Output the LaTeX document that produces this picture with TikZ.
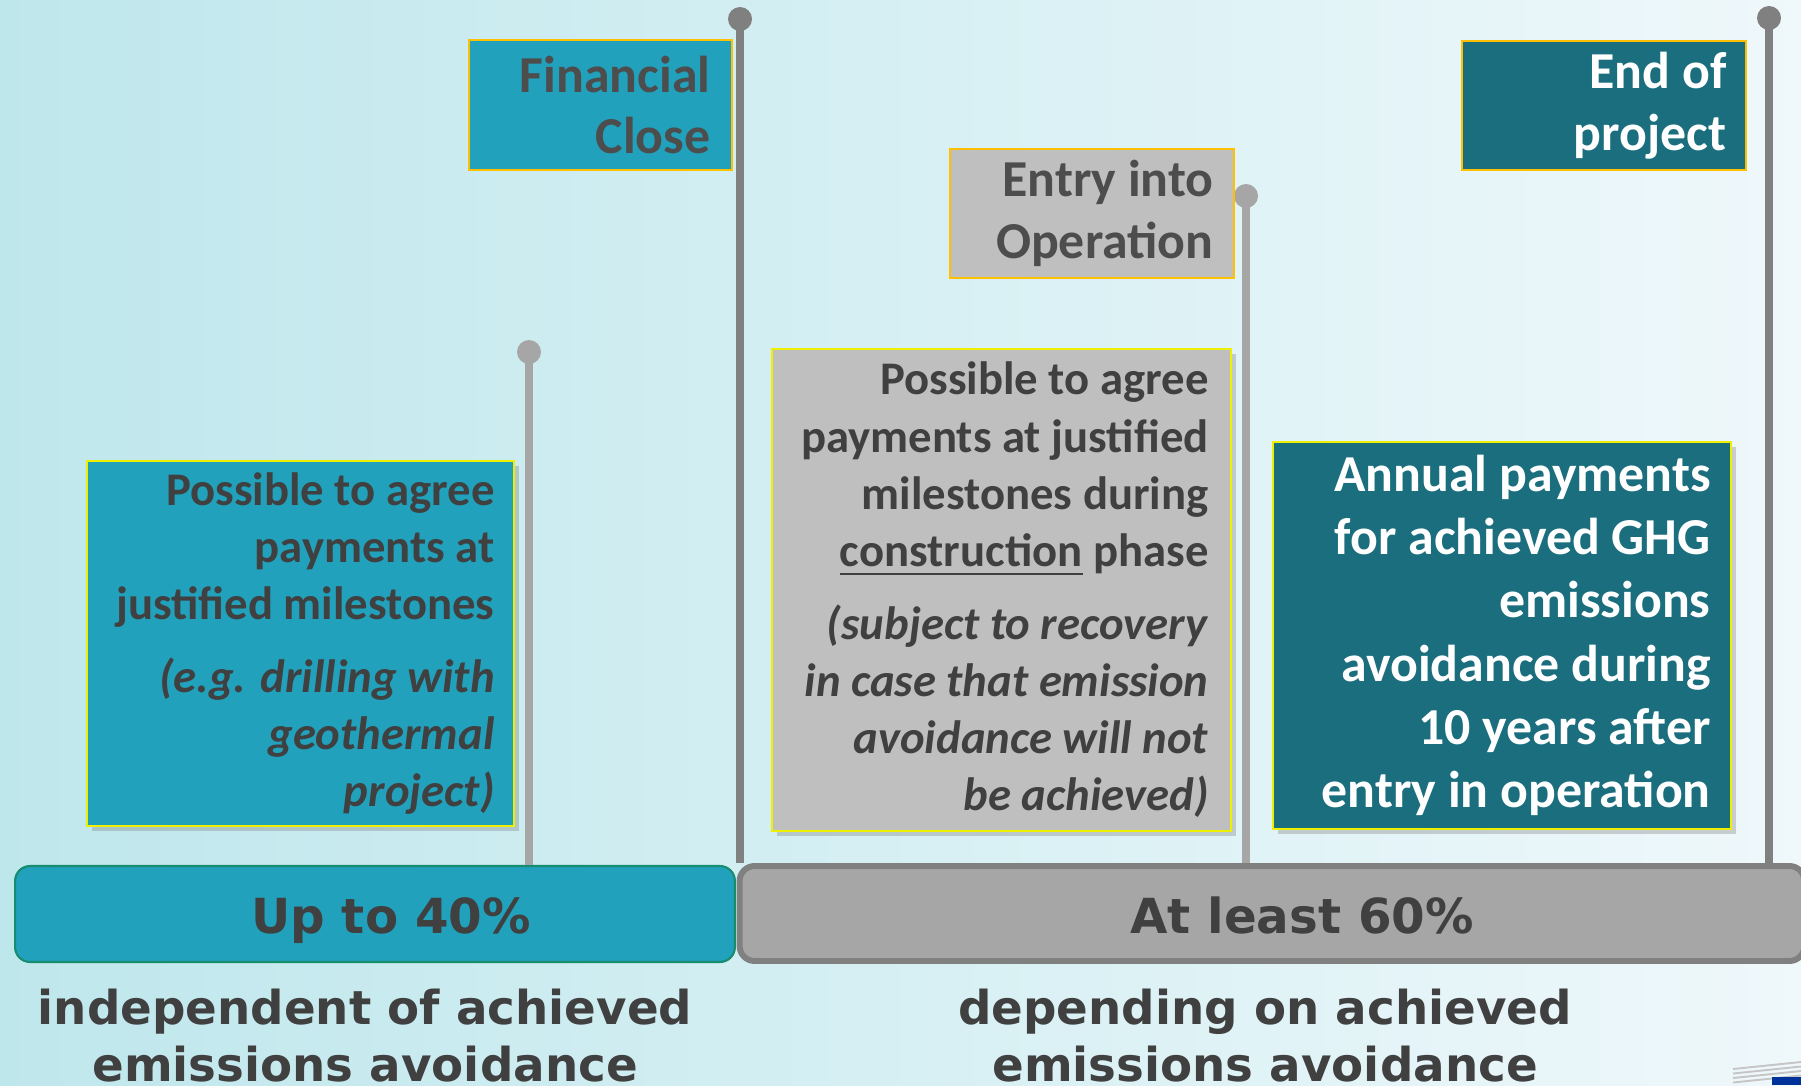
\documentclass[tikz,border=0pt]{standalone}
\usepackage{fontspec}
\setmainfont{Carlito}
\newfontfamily\verdfont{DejaVu Sans}
\usetikzlibrary{shadows}

\definecolor{seablue}{RGB}{33,161,187}
\definecolor{deepsea}{RGB}{26,110,125}
\definecolor{paleslate}{RGB}{191,191,191}
\definecolor{inkgray}{RGB}{64,64,64}
\definecolor{flagink}{RGB}{77,77,77}
\definecolor{polegray}{RGB}{128,128,128}
\definecolor{poleslight}{RGB}{166,166,166}
\definecolor{flagedge}{RGB}{255,192,0}
\definecolor{noteedge}{RGB}{238,240,0}
\definecolor{bargreen}{RGB}{24,140,110}
\definecolor{bgleft}{RGB}{190,231,236}
\definecolor{bgright}{RGB}{239,248,251}
\definecolor{eublue}{RGB}{0,51,153}

% underline with a thicker rule
\newcommand{\lineunder}[1]{\setbox0\hbox{#1}\rlap{\rule[-4.6pt]{\wd0}{1.3pt}}\box0\relax}

\begin{document}
\begin{tikzpicture}[x=0.02cm, y=-0.02cm,
    flagbox/.style={draw=flagedge, line width=0.9pt, minimum width=5.68cm, minimum height=2.58cm, inner sep=0pt},
    flagtext/.style={align=right, anchor=east, inner sep=0pt, text=flagink, font=\bfseries\fontsize{29.5pt}{35pt}\selectfont},
    notebox/.style={draw=noteedge, line width=1.1pt, inner sep=0pt, drop shadow={opacity=0.35, shadow xshift=3pt, shadow yshift=-3pt}},
    notetext/.style={align=right, anchor=east, inner sep=0pt, text=inkgray, font=\bfseries\fontsize{26.6pt}{32.6pt}\selectfont},
    pole/.style={line width=4.5pt},
    knob/.style={circle, inner sep=0pt, minimum size=0.48cm},
    sharebar/.style={inner sep=0pt, rounded corners=0.3cm, minimum height=1.92cm},
    bartext/.style={anchor=base, inner sep=0pt, text=inkgray, font=\verdfont\bfseries\fontsize{27.5pt}{33pt}\selectfont},
    foottext/.style={anchor=north, align=center, inner sep=0pt, text=inkgray, font=\verdfont\bfseries\fontsize{26.6pt}{32.3pt}\selectfont}]

  \useasboundingbox (0,0) rectangle (1801,1085);
  \clip (0,0) rectangle (1801,1085);
  \shade[left color=bgleft, right color=bgright] (0,0) rectangle (1801,1085);

  % bottom bars
  \node[sharebar, draw=bargreen, fill=seablue, line width=1.2pt, minimum width=14.4cm] (shareA) at (375,914) {};
  \node[sharebar, draw=polegray, fill=poleslight, line width=3.4pt, minimum width=21.3cm, minimum height=1.9cm] (shareB) at (1272,913.5) {};
  \node[bartext] (shareAtext) at (391,933) {Up to 40\%};
  \node[bartext] (shareBtext) at (1302,933) {At least 60\%};

  % milestone poles
  \node[knob, fill=poleslight] (knobA) at (529,352) {};
  \node[knob, fill=polegray] (knobB) at (740,19) {};
  \node[knob, fill=poleslight] (knobC) at (1246,196) {};
  \node[knob, fill=polegray] (knobD) at (1769,18) {};
  \draw[pole, poleslight] (knobA.center) -- (knobA |- shareA.north);
  \draw[pole, polegray] (knobB.center) -- (knobB |- shareB.north);
  \draw[pole, poleslight] (knobC.center) -- (knobC |- shareB.north);
  \draw[pole, polegray] (knobD.center) -- (knobD |- shareB.north);

  % flags
  \node[flagbox, fill=seablue, minimum width=5.26cm, minimum height=2.6cm] (fin) at (600.5,105) {};
  \node[flagtext] (fintext) at ([xshift=-0.44cm]fin.east) {Financial\\Close};
  \node[flagbox, fill=paleslate] (entry) at (1092,213.5) {};
  \node[flagtext] (entrytext) at ([xshift=-0.42cm]entry.east) {Entry into\\Operation};
  \node[flagbox, fill=deepsea] (endp) at (1604,105.5) {};
  \node[flagtext, text=white] (endptext) at ([xshift=-0.40cm]endp.east) {End of\\project};

  % payment notes
  \node[notebox, fill=seablue, minimum width=8.54cm, minimum height=7.3cm] (agreeA) at (300.5,643.5) {};
  \node[notetext] (agreeAtext) at ([xshift=-0.40cm]agreeA.east)
    {Possible to agree\\payments at\\justified milestones\\[8.6pt]
     \textit{(e.g. drilling with}\\\textit{geothermal}\\\textit{project)}};
  \node[notebox, fill=paleslate, minimum width=9.18cm, minimum height=9.64cm] (agreeB) at (1001.5,590) {};
  \node[notetext] (agreeBtext) at ([xshift=-0.46cm]agreeB.east)
    {Possible to agree\\payments at justified\\milestones during\\\lineunder{construction} phase\\[8.6pt]
     \textit{(subject to recovery}\\\textit{in case that emission}\\\textit{avoidance will not}\\\textit{be achieved)}};
  \node[notebox, fill=deepsea, minimum width=9.16cm, minimum height=7.74cm] (annual) at (1502,635.5) {};
  \node[notetext, text=white, font=\bfseries\fontsize{29.5pt}{36pt}\selectfont] (annualtext) at ([xshift=-0.42cm]annual.east)
    {Annual payments\\for achieved GHG\\emissions\\avoidance during\\10 years after\\entry in operation};

  % captions under the bars
  \node[foottext] (indep) at (365,989) {independent of achieved\\emissions avoidance};
  \node[foottext] (depend) at (1265,989) {depending on achieved\\emissions avoidance};

  % corner of the logo
  \foreach \k in {0,1,2,3}
    \draw[gray!45, line width=1.1pt] (1733,1069+4.5*\k) -- (1801,1062+4.5*\k);
  \fill[eublue] (1772,1077) rectangle (1801,1085);
\end{tikzpicture}
\end{document}
